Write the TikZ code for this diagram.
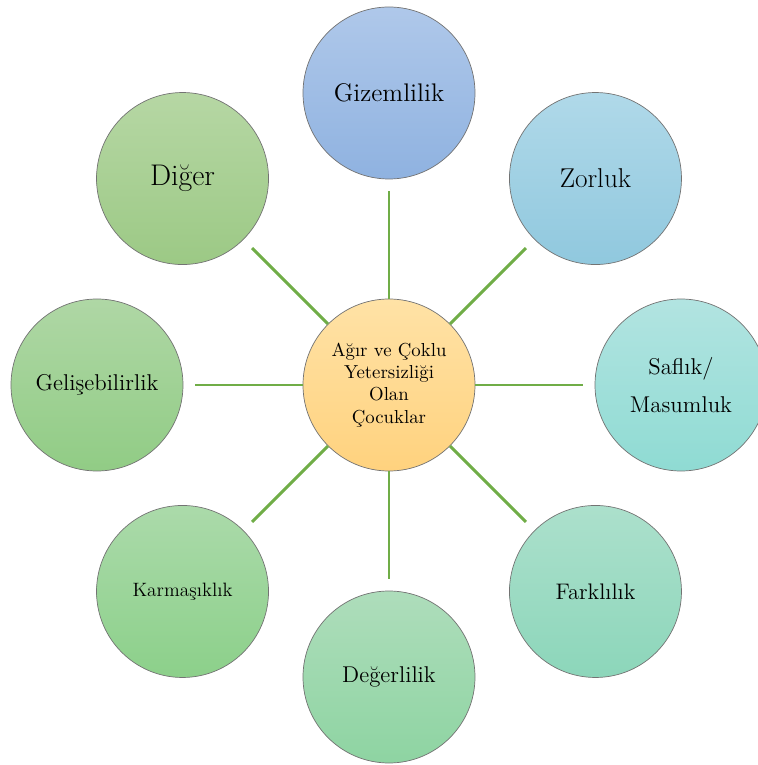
\documentclass[tikz,border=0pt]{standalone}

\definecolor{spokegreen}{HTML}{70AD47}
\definecolor{cenA}{HTML}{FFE2A6}
\definecolor{cenB}{HTML}{FFD27E}
\definecolor{gizA}{HTML}{AFC8EA}
\definecolor{gizB}{HTML}{8FB2E0}
\definecolor{zorA}{HTML}{B0D9E9}
\definecolor{zorB}{HTML}{90C8DE}
\definecolor{safA}{HTML}{B2E4E1}
\definecolor{safB}{HTML}{8FDBD3}
\definecolor{farA}{HTML}{ACE0CC}
\definecolor{farB}{HTML}{8CD6BA}
\definecolor{degA}{HTML}{AEDDBB}
\definecolor{degB}{HTML}{8ED4A2}
\definecolor{karA}{HTML}{ABDAAA}
\definecolor{karB}{HTML}{8CD08A}
\definecolor{gelA}{HTML}{AFD7A5}
\definecolor{gelB}{HTML}{91CC85}
\definecolor{digA}{HTML}{B6D7A4}
\definecolor{digB}{HTML}{9CC985}

\begin{document}
\begin{tikzpicture} [node distance = 5.84cm,
        blob/.style = {draw = black!55, line width = 0.4pt, circle, minimum size = 3.44cm, inner sep = 0pt, align = center},
        spoke/.style = {draw = spokegreen, line width = 1.7pt, shorten >= 0.24cm}]
        \useasboundingbox (-7.78, -7.60) rectangle (7.38, 7.70);

        \node [blob, top color = cenA, bottom color = cenB, font = \fontsize{10.7}{12.6}\selectfont] (cen) {Ağır ve Çoklu\\ Yetersizliği\\ Olan\\ Çocuklar};

        \node [blob, top color = gizA, bottom color = gizB, font = \fontsize{14.5}{17}\selectfont] (giz) [above of = cen] {Gizemlilik};
        \node [blob, top color = zorA, bottom color = zorB, font = \fontsize{15.5}{18}\selectfont] (zor) [above right of = cen] {Zorluk};
        \node [blob, top color = safA, bottom color = safB, font = \fontsize{13}{21.6}\selectfont] (saf) [right of = cen] {Saflık/\\ Masumluk};
        \node [blob, top color = farA, bottom color = farB, font = \fontsize{12.8}{15}\selectfont] (far) [below right of = cen] {Farklılık};
        \node [blob, top color = degA, bottom color = degB, font = \fontsize{13}{15}\selectfont] (deg) [below of = cen] {Değerlilik};
        \node [blob, top color = karA, bottom color = karB, font = \fontsize{11}{13}\selectfont] (kar) [below left of = cen] {Karmaşıklık};
        \node [blob, top color = gelA, bottom color = gelB, font = \fontsize{13}{15}\selectfont] (gel) [left of = cen] {Gelişebilirlik};
        \node [blob, top color = digA, bottom color = digB, font = \fontsize{17}{20}\selectfont] (dig) [above left of = cen] {Diğer};

        \path (cen) edge [spoke] (giz);
        \path (cen) edge [spoke] (zor);
        \path (cen) edge [spoke] (saf);
        \path (cen) edge [spoke] (far);
        \path (cen) edge [spoke] (deg);
        \path (cen) edge [spoke] (kar);
        \path (cen) edge [spoke] (gel);
        \path (cen) edge [spoke] (dig);

    \end{tikzpicture}
\end{document}
